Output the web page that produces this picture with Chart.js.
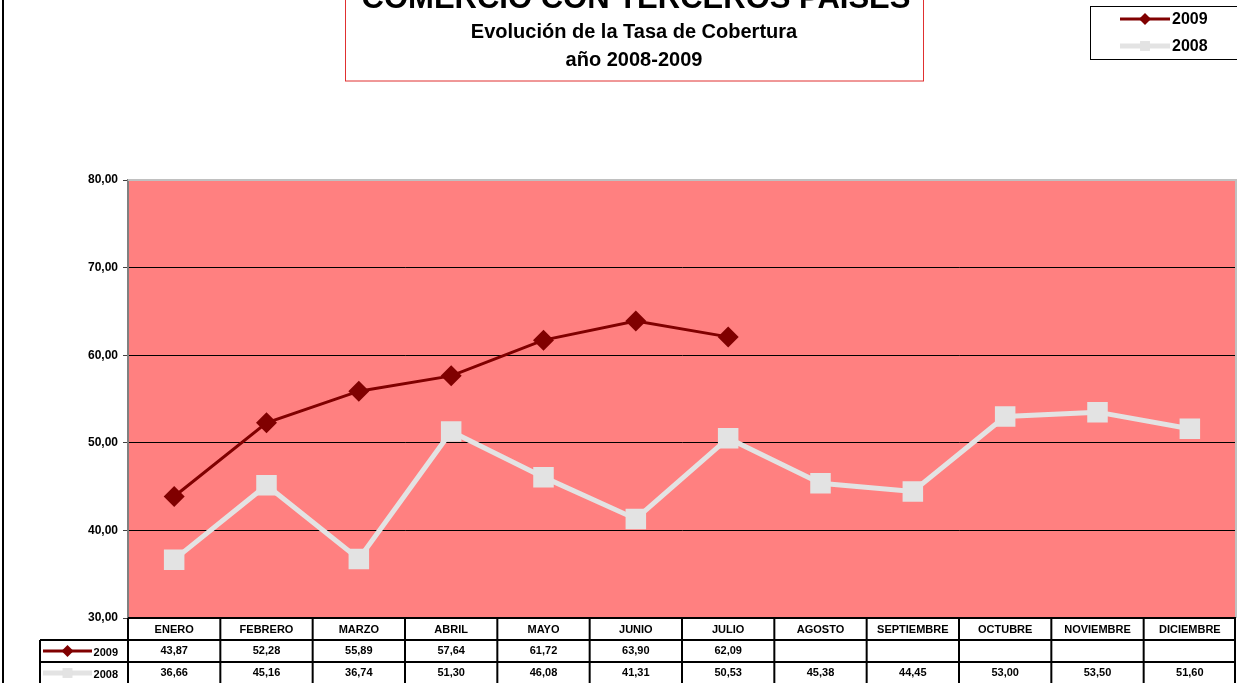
<!DOCTYPE html>
<html>
<head>
<meta charset="utf-8">
<script src="https://cdn.jsdelivr.net/npm/chart.js@4/dist/chart.umd.min.js"></script>
<style>
  html, body { margin: 0; padding: 0; background: #fff; overflow: hidden; }
  #wrap { width: 1237px; height: 683px; position: relative; }
  canvas { display: block; }
</style>
</head>
<body>
<div id="wrap"><canvas id="tasaChart" width="1237" height="683"></canvas></div>
<script>
const meses = ['ENERO', 'FEBRERO', 'MARZO', 'ABRIL', 'MAYO', 'JUNIO', 'JULIO',
    'AGOSTO', 'SEPTIEMBRE', 'OCTUBRE', 'NOVIEMBRE', 'DICIEMBRE'];
const tasa2009 = [43.87, 52.28, 55.89, 57.64, 61.72, 63.90, 62.09, null, null, null, null, null];
const tasa2008 = [36.66, 45.16, 36.74, 51.30, 46.08, 41.31, 50.53, 45.38, 44.45, 53.00, 53.50, 51.60];
const ticksY = [30, 40, 50, 60, 70, 80];

const FONT = 'Arial, "Liberation Sans", sans-serif';
const ROJO = '#800000';
const GRIS = '#e3e3e3';

function fmt(v) {
    return v.toFixed(2).replace('.', ',');
}

// símbolo de la serie (línea + marcador) para leyenda y tabla
function simbolo(ctx, serie, x1, x2, y) {
    ctx.save();
    ctx.strokeStyle = serie === 2009 ? ROJO : GRIS;
    ctx.fillStyle = ctx.strokeStyle;
    ctx.lineWidth = serie === 2009 ? 3 : 5;
    ctx.beginPath();
    ctx.moveTo(x1, y);
    ctx.lineTo(x2, y);
    ctx.stroke();
    Chart.helpers.drawPoint(ctx, {
        pointStyle: serie === 2009 ? 'rectRot' : 'rect',
        radius: serie === 2009 ? 6 : 7,
        rotation: 0,
        borderWidth: 0
    }, (x1 + x2) / 2, y);
    ctx.restore();
}

const fondoPlugin = {
    id: 'fondo',
    beforeDraw(chart) {
        const { ctx, chartArea } = chart;
        ctx.save();
        ctx.fillStyle = '#ff8080';
        ctx.fillRect(chartArea.left, chartArea.top, chartArea.width, chartArea.height);
        ctx.restore();
    },
    afterDraw(chart) {
        const { ctx, chartArea } = chart;
        const xs = chart.scales.x;
        ctx.save();

        // marco exterior izquierdo
        ctx.strokeStyle = '#000';
        ctx.lineWidth = 2;
        ctx.beginPath();
        ctx.moveTo(3, 0);
        ctx.lineTo(3, 683);
        ctx.stroke();

        // bordes gris del área de trazado
        ctx.strokeStyle = '#c0c0c0';
        ctx.lineWidth = 2;
        ctx.beginPath();
        ctx.moveTo(chartArea.left, chartArea.top);
        ctx.lineTo(chartArea.right, chartArea.top);
        ctx.lineTo(chartArea.right, chartArea.bottom);
        ctx.stroke();

        // cuadro de título
        ctx.strokeStyle = '#e03030';
        ctx.lineWidth = 1;
        ctx.strokeRect(345.5, -2, 578, 83);
        ctx.fillStyle = '#000';
        ctx.textAlign = 'center';
        ctx.textBaseline = 'alphabetic';
        ctx.font = 'bold 31px ' + FONT;
        ctx.fillText('COMERCIO CON TERCEROS PAISES', 636, 8);
        ctx.font = 'bold 20px ' + FONT;
        ctx.fillText('Evolución de la Tasa de Cobertura', 634, 38);
        ctx.fillText('año 2008-2009', 634, 66);

        // leyenda
        ctx.strokeStyle = '#000';
        ctx.lineWidth = 1;
        ctx.strokeRect(1090.5, 6.5, 160, 53);
        simbolo(ctx, 2009, 1120, 1170, 19);
        simbolo(ctx, 2008, 1120, 1170, 46);
        ctx.fillStyle = '#000';
        ctx.textAlign = 'left';
        ctx.textBaseline = 'middle';
        ctx.font = 'bold 16px ' + FONT;
        ctx.fillText('2009', 1172, 20);
        ctx.fillText('2008', 1172, 47);

        // tabla de datos
        const w = chartArea.width / meses.length;
        const r0 = chartArea.bottom, r1 = r0 + 22, r2 = r1 + 22, r3 = r2 + 24;
        const izq = 40;
        ctx.fillStyle = '#fff';
        ctx.fillRect(chartArea.left, r0, chartArea.width, r3 - r0);
        ctx.fillRect(izq, r1, chartArea.left - izq, r3 - r1);

        ctx.strokeStyle = '#000';
        ctx.lineWidth = 2;
        ctx.beginPath();
        ctx.moveTo(chartArea.left, r0); ctx.lineTo(chartArea.right, r0);
        ctx.moveTo(izq, r1); ctx.lineTo(chartArea.right, r1);
        ctx.moveTo(izq, r2); ctx.lineTo(chartArea.right, r2);
        ctx.moveTo(izq, r1); ctx.lineTo(izq, r3);
        for (let i = 0; i <= meses.length; i++) {
            const x = i < meses.length ? xs.getPixelForValue(i) - w / 2 : chartArea.right - 1;
            ctx.moveTo(x, r0);
            ctx.lineTo(x, r3);
        }
        ctx.stroke();

        ctx.fillStyle = '#000';
        ctx.textAlign = 'center';
        ctx.textBaseline = 'middle';
        ctx.font = 'bold 11px ' + FONT;
        meses.forEach((m, i) => {
            const cx = xs.getPixelForValue(i);
            ctx.fillText(m, cx, (r0 + r1) / 2 + 1);
            if (tasa2009[i] !== null) ctx.fillText(fmt(tasa2009[i]), cx, (r1 + r2) / 2);
            ctx.fillText(fmt(tasa2008[i]), cx, (r2 + r3) / 2 - 1);
        });

        simbolo(ctx, 2009, 43, 92, (r1 + r2) / 2);
        simbolo(ctx, 2008, 43, 92, (r2 + r3) / 2 - 1);
        ctx.textAlign = 'right';
        ctx.fillText('2009', 118, (r1 + r2) / 2 + 2);
        ctx.fillText('2008', 118, (r2 + r3) / 2 + 1);

        ctx.restore();
    }
};

new Chart(document.getElementById('tasaChart'), {
    type: 'line',
    data: {
        labels: meses,
        datasets: [{
            label: '2008',
            data: tasa2008,
            borderColor: GRIS,
            backgroundColor: GRIS,
            borderWidth: 5,
            pointStyle: 'rect',
            pointRadius: 14.5,
            pointBorderWidth: 0,
            tension: 0,
            order: 2
        }, {
            label: '2009',
            data: tasa2009,
            borderColor: ROJO,
            backgroundColor: ROJO,
            borderWidth: 3,
            pointStyle: 'rectRot',
            pointRadius: 10.5,
            pointBorderWidth: 0,
            tension: 0,
            spanGaps: false,
            order: 1
        }]
    },
    options: {
        responsive: false,
        animation: false,
        layout: { autoPadding: false, padding: { top: 180, bottom: 65, left: 0, right: 1 } },
        plugins: {
            legend: { display: false },
            title: { display: false },
            tooltip: { enabled: false }
        },
        scales: {
            x: {
                display: false,
                offset: true
            },
            y: {
                min: ticksY[0],
                max: ticksY[ticksY.length - 1],
                afterBuildTicks(scale) {
                    scale.ticks = ticksY.map(v => ({ value: v }));
                },
                afterFit(scale) {
                    scale.width = 128;
                },
                border: { color: '#808080', width: 2 },
                grid: {
                    color: c => (c.tick && c.tick.value === 80) ? '#c0c0c0' : '#000',
                    lineWidth: 1,
                    tickLength: 5,
                    tickColor: '#404040'
                },
                ticks: {
                    padding: 5,
                    color: '#000',
                    font: { family: FONT, size: 12, weight: 'bold' },
                    callback: v => fmt(v)
                }
            }
        }
    },
    plugins: [fondoPlugin]
});
</script>
</body>
</html>
